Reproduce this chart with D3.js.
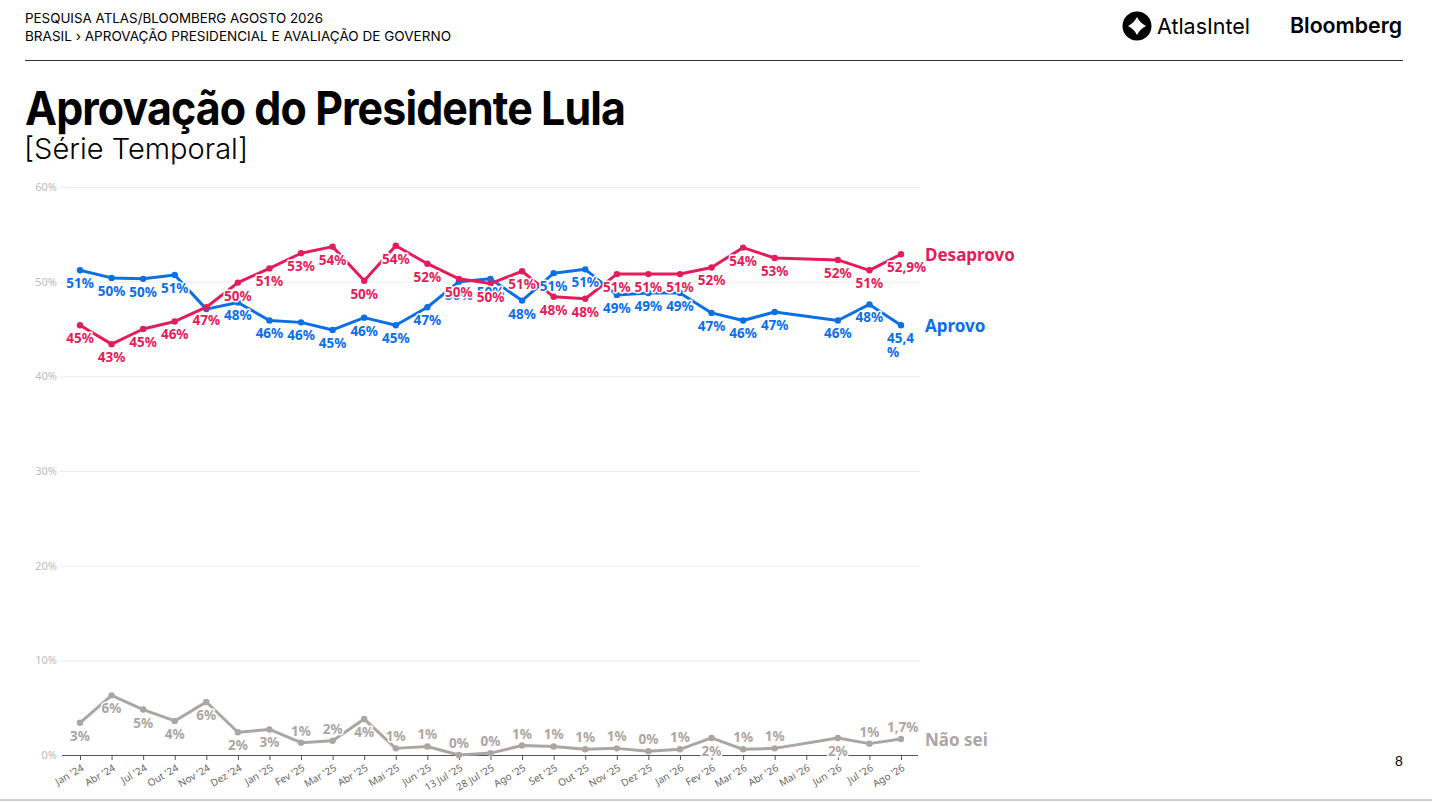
<!DOCTYPE html>
<html>
<head>
<meta charset="utf-8">
<script src="https://cdn.jsdelivr.net/npm/d3@7"></script>
<style>
  body { margin: 0; background: #fff; }
  svg text { font-family: "Noto Sans", sans-serif; }
</style>
</head>
<body>
<div id="container"></div>
<script>
// survey waves
const categories = ["Jan '24", "Abr '24", "Jul '24", "Out '24", "Nov '24", "Dez '24", "Jan '25", "Fev '25",
  "Mar '25", "Abr '25", "Mai '25", "Jun '25", "13 Jul '25", "28 Jul '25", "Ago '25", "Set '25", "Out '25",
  "Nov '25", "Dez '25", "Jan '26", "Fev '26", "Mar '26", "Abr '26", "Mai '26", "Jun '26", "Jul '26", "Ago '26"];

const desaprovo = [45.4, 43.4, 45.0, 45.8, 47.3, 49.9, 51.4, 53.0, 53.7, 50.1, 53.8, 51.9, 50.3, 49.8, 51.1,
  48.4, 48.2, 50.8, 50.8, 50.8, 51.5, 53.6, 52.5, null, 52.3, 51.2, 52.9];
const aprovo = [51.2, 50.4, 50.3, 50.7, 47.1, 47.8, 45.9, 45.7, 44.9, 46.2, 45.4, 47.3, 50.0, 50.3, 48.0,
  50.9, 51.3, 48.6, 48.8, 48.8, 46.7, 45.9, 46.8, null, 45.9, 47.6, 45.4];
const naoSei = [3.4, 6.3, 4.8, 3.6, 5.6, 2.4, 2.7, 1.3, 1.5, 3.8, 0.7, 0.9, 0.0, 0.2, 1.0,
  0.9, 0.6, 0.7, 0.4, 0.6, 1.8, 0.6, 0.7, null, 1.8, 1.2, 1.7];

const desaprovoLabels = ["45%", "43%", "45%", "46%", "47%", "50%", "51%", "53%", "54%", "50%", "54%", "52%", "50%", "50%", "51%",
  "48%", "48%", "51%", "51%", "51%", "52%", "54%", "53%", "", "52%", "51%", "52,9%"];
const aprovoLabels = ["51%", "50%", "50%", "51%", "", "48%", "46%", "46%", "45%", "46%", "45%", "47%", "50%", "50%", "48%",
  "51%", "51%", "49%", "49%", "49%", "47%", "46%", "47%", "", "46%", "48%", "45,4\n%"];
const naoSeiLabels = ["3%", "6%", "5%", "4%", "6%", "2%", "3%", "1%", "2%", "4%", "1%", "1%", "0%", "0%", "1%",
  "1%", "1%", "1%", "0%", "1%", "2%", "1%", "1%", "", "2%", "1%", "1,7%"];

const yTicks = [0, 10, 20, 30, 40, 50, 60];

const series = [
  { name: 'Não sei', values: naoSei, labels: naoSeiLabels, color: '#aca6a3' },
  { name: 'Aprovo', values: aprovo, labels: aprovoLabels, color: '#0b6fe6' },
  { name: 'Desaprovo', values: desaprovo, labels: desaprovoLabels, color: '#e31d5c' }
];

const svg = d3.select('#container')
  .append('svg')
  .attr('width', 1432)
  .attr('height', 802);

// ---- header ----
const header = svg.append('g').attr('class', 'header');
header.append('text')
  .attr('x', 25).attr('y', 23)
  .style('font-family', 'Inter, sans-serif')
  .style('font-size', '13.5px')
  .attr('textLength', 298).attr('lengthAdjust', 'spacingAndGlyphs')
  .text('PESQUISA ATLAS/BLOOMBERG AGOSTO 2026');
header.append('text')
  .attr('x', 25).attr('y', 41)
  .style('font-family', 'Inter, sans-serif')
  .style('font-size', '13.5px')
  .attr('textLength', 426).attr('lengthAdjust', 'spacingAndGlyphs')
  .text('BRASIL › APROVAÇÃO PRESIDENCIAL E AVALIAÇÃO DE GOVERNO');

header.append('line')
  .attr('x1', 25).attr('x2', 1403)
  .attr('y1', 60.5).attr('y2', 60.5)
  .style('stroke', '#333').style('stroke-width', 1);

header.append('text')
  .attr('x', 25).attr('y', 125)
  .style('font-family', 'Inter, sans-serif')
  .style('font-weight', 700)
  .style('font-size', '47px')
  .style('letter-spacing', '-1px')
  .attr('textLength', 600).attr('lengthAdjust', 'spacingAndGlyphs')
  .text('Aprovação do Presidente Lula');
header.append('text')
  .attr('x', 24).attr('y', 159)
  .style('font-family', 'Inter, sans-serif')
  .style('font-weight', 300)
  .style('font-size', '29px')
  .attr('textLength', 224).attr('lengthAdjust', 'spacingAndGlyphs')
  .text('[Série Temporal]');

// logos
const logo = header.append('g').attr('transform', 'translate(1137,26)');
logo.append('circle').attr('r', 14.5).style('fill', '#000');
logo.append('path')
  .attr('d', 'M0,-9 Q3,-3 9,0 Q3,3 0,9 Q-3,3 -9,0 Q-3,-3 0,-9 Z')
  .style('fill', '#fff');
header.append('text')
  .attr('x', 1157).attr('y', 34)
  .style('font-family', 'Inter, sans-serif')
  .style('font-size', '22px')
  .attr('textLength', 93).attr('lengthAdjust', 'spacingAndGlyphs')
  .text('AtlasIntel');
header.append('text')
  .attr('x', 1290).attr('y', 33)
  .style('font-family', 'Inter, sans-serif')
  .style('font-weight', 600)
  .style('font-size', '22px')
  .attr('textLength', 112).attr('lengthAdjust', 'spacingAndGlyphs')
  .text('Bloomberg');

// page number + bottom rule
svg.append('text')
  .attr('x', 1399).attr('y', 766)
  .attr('text-anchor', 'middle')
  .style('font-family', 'Liberation Sans, Arial, sans-serif')
  .style('font-size', '14px')
  .text('8');
svg.append('line')
  .attr('x1', 0).attr('x2', 1432)
  .attr('y1', 800).attr('y2', 800)
  .style('stroke', '#cfcfcf').style('stroke-width', 2);

// ---- chart ----
const xScale = d3.scalePoint().domain(categories).range([80, 901]);
const yScale = d3.scaleLinear().domain([0, 60]).range([755, 187]);

const chart = svg.append('g').attr('class', 'chart');

// grid
chart.append('g')
  .attr('transform', 'translate(60,0)')
  .call(d3.axisLeft(yScale).tickValues(yTicks).tickSize(-860).tickFormat(d => d + '%'))
  .call(g => g.select('.domain').remove())
  .call(g => g.selectAll('.tick line').style('stroke', (d) => d === 0 ? 'none' : '#ececec'))
  .call(g => g.selectAll('.tick text')
    .attr('x', -3)
    .style('fill', '#bdbdbd')
    .style('font-size', '11px')
    .style('font-family', 'Noto Sans, sans-serif'));

// x axis
chart.append('g')
  .attr('transform', 'translate(0,755)')
  .call(d3.axisBottom(xScale).tickSize(5).tickSizeOuter(0))
  .call(g => g.select('.domain').attr('d', 'M62,0.5H918').style('stroke', '#555'))
  .call(g => g.selectAll('.tick line').style('stroke', '#555'))
  .call(g => g.selectAll('.tick text')
    .attr('text-anchor', 'end')
    .attr('y', 0).attr('dy', 0)
    .attr('transform', 'translate(4,15) rotate(-30)')
    .style('fill', '#666')
    .style('font-size', '10px')
    .style('font-family', 'Noto Sans, sans-serif'));

const line = d3.line()
  .defined(d => d.v !== null)
  .x(d => xScale(d.c))
  .y(d => yScale(d.v));

const rows = (s) => categories.map((c, i) => ({ c, v: s.values[i], label: s.labels[i], i }));

series.forEach((s) => {
  const pts = rows(s).filter(d => d.v !== null);
  chart.append('path')
    .datum(pts)
    .attr('d', line)
    .style('fill', 'none')
    .style('stroke', s.color)
    .style('stroke-width', 3)
    .style('stroke-linejoin', 'round');
  chart.selectAll(null)
    .data(pts)
    .enter()
    .append('circle')
    .attr('cx', d => xScale(d.c))
    .attr('cy', d => yScale(d.v))
    .attr('r', 3.2)
    .style('fill', s.color);
});

// value labels (blue, red, then gray)
const last = categories.length - 1;
[series[1], series[2], series[0]].forEach((s) => {
  const pts = rows(s).filter(d => d.v !== null && d.label);
  const t = chart.selectAll(null)
    .data(pts)
    .enter()
    .append('text')
    .attr('x', d => d.i === last ? xScale(d.c) - 14 : xScale(d.c))
    .attr('y', (d) => {
      const py = yScale(d.v);
      if (s.name === 'Não sei' && (d.v < 1.75)) return py - 7;
      return py + 18;
    })
    .attr('text-anchor', d => d.i === last ? 'start' : 'middle')
    .style('font-size', '13.5px')
    .style('font-weight', 700)
    .style('fill', s.color)
    .style('stroke', '#fff')
    .style('stroke-width', 3)
    .style('stroke-linejoin', 'round')
    .style('paint-order', 'stroke');
  t.each(function (d) {
    const parts = d.label.split('\n');
    const el = d3.select(this);
    parts.forEach((p, k) => {
      el.append('tspan')
        .attr('x', el.attr('x'))
        .attr('dy', k === 0 ? 0 : 14)
        .text(p);
    });
  });
});

// series names
const endLabelY = { 'Desaprovo': 261, 'Aprovo': 332, 'Não sei': 746 };
series.forEach((s) => {
  chart.append('text')
    .attr('x', 925)
    .attr('y', endLabelY[s.name])
    .style('font-size', '17px')
    .style('font-weight', 700)
    .style('fill', s.color)
    .text(s.name);
});
</script>
</body>
</html>
